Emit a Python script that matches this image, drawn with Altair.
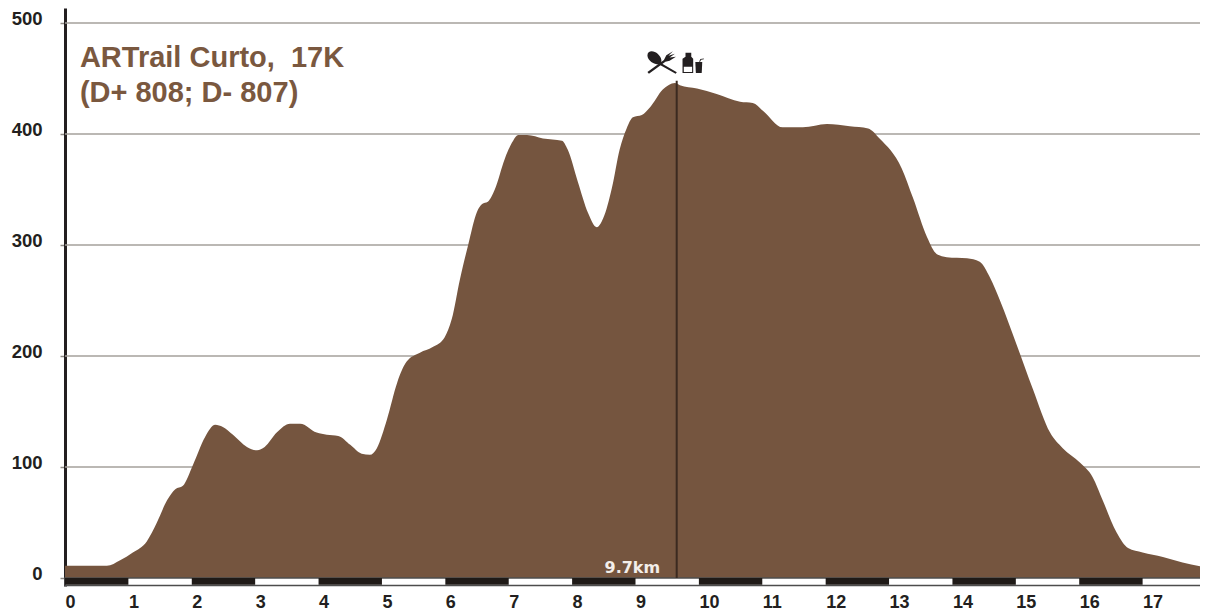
import altair as alt
import pandas as pd

km = [0, 0.66, 0.87, 1.07, 1.29, 1.45, 1.61, 1.74, 1.86, 2.02, 2.21, 2.37, 2.49, 2.65, 2.87, 3.03, 3.15, 3.34, 3.55, 3.71,
      3.97, 4.13, 4.31, 4.50, 4.68, 4.81, 4.92, 5.08, 5.24, 5.39, 5.60, 5.80, 5.99, 6.10, 6.23, 6.36, 6.50, 6.58, 6.67, 6.78,
      6.94, 7.07, 7.15, 7.29, 7.54, 7.84, 7.93, 8.09, 8.25, 8.39, 8.49, 8.63, 8.75, 8.86, 8.96, 9.10, 9.23, 9.43, 9.62, 9.70,
      9.97, 10.28, 10.65, 10.85, 11.01, 11.32, 11.64, 12.02, 12.38, 12.67, 12.85, 13.20, 13.38, 13.60, 13.75, 13.91, 14.23, 14.43, 14.59, 14.75,
      15.02, 15.27, 15.54, 15.74, 16.01, 16.21, 16.37, 16.59, 16.77, 17.00, 17.32, 17.63, 17.95]
elevation = [11, 11, 16, 23, 33, 50, 70, 80, 83, 102, 127, 138, 136, 129, 118, 115, 118, 131, 139, 139,
             131, 129, 128, 120, 112, 111, 117, 143, 176, 195, 203, 208, 217, 233, 269, 300, 330, 337, 339, 350,
             378, 394, 399, 399, 396, 394, 386, 357, 329, 316, 324, 352, 386, 405, 415, 417, 424, 440, 446, 444,
             441, 436, 429, 428, 421, 406, 406, 409, 407, 405, 396, 369, 342, 307, 292, 289, 288, 285, 271, 250,
             209, 170, 131, 117, 104, 91, 70, 41, 27, 23, 19, 14, 10]

y_ticks = [0, 100, 200, 300, 400, 500]
x_ticks = list(range(18))
strip_start = [0, 2, 4, 6, 8, 10, 12, 14, 16]
title_lines = ["ARTrail Curto,\u00a0 17K", "(D+ 808; D- 807)"]
title_y = [460.5, 429]

BROWN = "#75553f"
DARK = "#231f20"

x_scale = alt.Scale(domain=[0, 18], nice=False, zero=False)
y_scale = alt.Scale(domain=[-7.2, 513.5], nice=False, zero=False)
X = alt.X("x:Q", scale=x_scale, title=None,
          axis=alt.Axis(values=x_ticks, format="d", ticks=False, domain=False, grid=False, labelAlign="left",
                        labelBaseline="top", labelPadding=7, labelFont="Liberation Sans", labelFontWeight="bold",
                        labelFontSize=18, labelColor=DARK, labelFlush=False, labelOverlap=False, labelBound=False))
Y = alt.Y("y:Q", scale=y_scale, title=None,
          axis=alt.Axis(values=y_ticks, format="d", grid=False, domain=True, domainColor=DARK, domainWidth=3,
                        tickColor="#8f8a85", tickSize=5, tickWidth=1.5, labelPadding=18, labelOffset=-4.5,
                        labelFont="Liberation Sans", labelFontWeight="bold", labelFontSize=18.5, labelColor=DARK,
                        labelFlush=False, labelOverlap=False, labelBound=False))

profile = pd.DataFrame({"x": km, "y": elevation})
area = alt.Chart(profile).mark_area(color=BROWN, interpolate="monotone").encode(x=X, y=Y, y2=alt.datum(0))

grid = alt.Chart(pd.DataFrame({"x": [0] * 6, "x2": [17.91] * 6, "y": y_ticks})).mark_rule(
    color="#a5a09b", strokeWidth=1.6).encode(x=alt.X("x:Q", scale=x_scale), x2="x2:Q", y=alt.Y("y:Q", scale=y_scale))

strip_bg = alt.Chart(pd.DataFrame({"x": [0], "x2": [17.98], "y": [-6.8], "y2": [0]})).mark_rect(
    fill="white", stroke="#4d4d4d", strokeWidth=1.5).encode(
    x=alt.X("x:Q", scale=x_scale), x2="x2:Q", y=alt.Y("y:Q", scale=y_scale), y2="y2:Q")
strip = alt.Chart(pd.DataFrame({"x": strip_start, "x2": [s + 1 for s in strip_start],
                                "y": [-6.0] * 9, "y2": [0] * 9})).mark_rect(fill="#1f1a17").encode(
    x=alt.X("x:Q", scale=x_scale), x2="x2:Q", y=alt.Y("y:Q", scale=y_scale), y2="y2:Q")

marker = alt.Chart(pd.DataFrame({"x": [9.65], "y": [0], "y2": [448]})).mark_rule(
    color="#3b2a20", strokeWidth=2).encode(x=alt.X("x:Q", scale=x_scale), y=alt.Y("y:Q", scale=y_scale), y2="y2:Q")
marker_text = alt.Chart(pd.DataFrame({"x": [8.95], "y": [4.5], "t": ["9.7km"]})).mark_text(
    font="DejaVu Sans", fontWeight="bold", fontSize=16, color="#f3eeea", align="center", baseline="alphabetic").encode(
    x=alt.X("x:Q", scale=x_scale), y=alt.Y("y:Q", scale=y_scale), text="t:N")

title = alt.Chart(pd.DataFrame({"x": [0.235, 0.235], "y": title_y, "t": title_lines})).mark_text(
    font="Liberation Sans", fontWeight="bold", fontSize=29, color="#7a583f", align="left", baseline="alphabetic").encode(
    x=alt.X("x:Q", scale=x_scale), y=alt.Y("y:Q", scale=y_scale), text="t:N")

SPOON = "M-0.98,-0.5 C-0.98,-0.85 -0.55,-0.85 -0.28,-0.6 C-0.02,-0.35 -0.02,-0.1 -0.08,0 L0.98,0.62 L0.9,0.72 L-0.2,0.1 C-0.5,0.12 -0.98,-0.15 -0.98,-0.5 Z"
FORK = "M-0.98,0.6 L0.12,-0.2 L0.28,-0.52 L0.72,-0.78 L0.42,-0.48 L0.85,-0.62 L0.5,-0.36 L0.92,-0.42 L0.5,-0.15 L0.22,-0.08 L-0.88,0.72 Z"
JUG = "M-1,-0.4 L-0.72,-0.58 L-0.72,-0.95 L-0.18,-0.95 L-0.18,-0.58 L0,-0.4 L0,0.95 L-1,0.95 Z M-0.88,0.35 L-0.88,0.85 L-0.1,0.85 L-0.1,0.35 Z"
GLASS = "M0.2,-0.1 L0.85,-0.1 L0.8,0.95 L0.25,0.95 Z"
STRAW = "M0.55,-0.12 L0.68,-0.38 L1,-0.42 L1,-0.34 L0.74,-0.3 L0.65,-0.12 Z"

icons = []
for shape, cx, size in [(SPOON, 9.42, 900), (FORK, 9.42, 900), (JUG, 9.91, 455), (GLASS, 9.91, 455), (STRAW, 9.91, 455)]:
    icons.append(alt.Chart(pd.DataFrame({"x": [cx], "y": [464]})).mark_point(
        shape=shape, size=size, filled=True, fill=DARK, opacity=1, strokeWidth=0).encode(
        x=alt.X("x:Q", scale=x_scale), y=alt.Y("y:Q", scale=y_scale)))

chart = alt.layer(grid, area, strip_bg, strip, marker, marker_text, title, *icons).properties(
    width=1141, height=578,
    padding={"left": 57, "top": 0, "right": -6, "bottom": 29},
    autosize=alt.AutoSizeParams(type="none"),
    background="white",
).configure_view(stroke=None)

chart.save("out.html", embed_options={"renderer": "svg", "actions": False})
